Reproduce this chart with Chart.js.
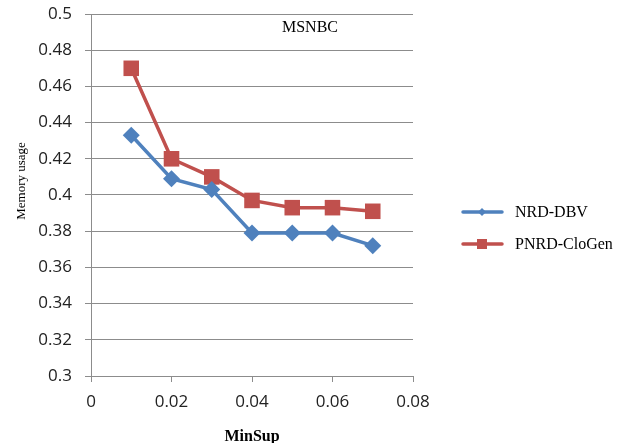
<!DOCTYPE html>
<html lang="en">
<head>
  <meta charset="UTF-8">
  <title>MSNBC Memory usage</title>
  <style>
    html, body { margin: 0; padding: 0; background: #fff; }
    #wrap { width: 629px; height: 443px; }
  </style>
  <script src="https://cdn.jsdelivr.net/npm/chart.js"></script>
</head>
<body>
  <div id="wrap"><canvas id="memChart" width="629" height="443"></canvas></div>

  <script>
    // MinSup values and memory usage per algorithm
    var minSup = [0.01, 0.02, 0.03, 0.04, 0.05, 0.06, 0.07];
    var nrdDbv = [0.433, 0.409, 0.403, 0.379, 0.379, 0.379, 0.372];
    var pnrdCloGen = [0.470, 0.420, 0.410, 0.397, 0.393, 0.393, 0.391];

    var seriesNames = ['NRD-DBV', 'PNRD-CloGen'];
    var datasetTitle = 'MSNBC';

    var blue = '#4F81BD';
    var red = '#C0504D';
    var gridColor = '#8c8c8c';

    function toPoints(values) {
      return values.map(function (v, i) { return { x: minSup[i], y: v }; });
    }

    function fmt(v) {
      return String(Math.round(v * 100) / 100);
    }

    // dataset name inside the plot, rotated y title, legend at right
    var extras = {
      id: 'extras',
      afterDraw: function (chart) {
        var ctx = chart.ctx;
        ctx.save();
        ctx.fillStyle = '#000';
        ctx.font = '16px "Liberation Serif"';
        ctx.textAlign = 'center';
        ctx.textBaseline = 'middle';
        ctx.fillText(datasetTitle, 310, 28);

        ctx.save();
        ctx.translate(22, 181);
        ctx.rotate(-Math.PI / 2);
        ctx.font = '13px "Liberation Serif"';
        ctx.fillText('Memory usage', 0, 0);
        ctx.restore();

        // legend entries
        var rows = [212, 244];
        chart.data.datasets.forEach(function (ds, i) {
          var y = rows[i];
          ctx.strokeStyle = ds.borderColor;
          ctx.lineWidth = 3.5;
          ctx.lineCap = 'round';
          ctx.beginPath();
          ctx.moveTo(463, y);
          ctx.lineTo(502, y);
          ctx.stroke();
          ctx.fillStyle = ds.backgroundColor;
          if (ds.pointStyle === 'rect') {
            ctx.fillRect(477, y - 5, 10, 10);
          } else {
            ctx.beginPath();
            ctx.moveTo(482, y - 4);
            ctx.lineTo(486, y);
            ctx.lineTo(482, y + 4);
            ctx.lineTo(478, y);
            ctx.closePath();
            ctx.fill();
          }
          ctx.fillStyle = '#000';
          ctx.font = '16px "Liberation Serif"';
          ctx.textAlign = 'left';
          ctx.fillText(ds.label, 515, y + 1);
        });
        ctx.restore();
      }
    };

    var ctx = document.getElementById('memChart').getContext('2d');
    var chart = new Chart(ctx, {
      type: 'line',
      data: {
        datasets: [{
          label: seriesNames[0],
          data: toPoints(nrdDbv),
          borderColor: blue,
          backgroundColor: blue,
          borderWidth: 3.5,
          pointStyle: 'rectRot',
          pointRadius: 8.5,
          pointBorderWidth: 0,
          tension: 0
        }, {
          label: seriesNames[1],
          data: toPoints(pnrdCloGen),
          borderColor: red,
          backgroundColor: red,
          borderWidth: 3.5,
          pointStyle: 'rect',
          pointRadius: 11,
          pointBorderWidth: 0,
          tension: 0
        }]
      },
      options: {
        responsive: false,
        animation: false,
        events: [],
        layout: { padding: { left: 0, right: 216, top: 14, bottom: 0 } },
        plugins: {
          legend: { display: false },
          tooltip: { enabled: false }
        },
        scales: {
          x: {
            type: 'linear',
            min: 0,
            max: 0.08,
            afterFit: function (s) {
              s.height = 67;
              s.paddingLeft = 0;
              s.paddingRight = 0;
            },
            ticks: {
              stepSize: 0.02,
              padding: 10,
              color: '#222',
              font: { family: 'Open Sans', size: 17 },
              callback: fmt,
              maxRotation: 0
            },
            grid: {
              drawOnChartArea: false,
              tickLength: 6,
              color: gridColor
            },
            border: { color: gridColor, width: 1 },
            title: {
              display: true,
              text: 'MinSup',
              color: '#000',
              font: { family: 'Liberation Serif', size: 16, weight: 'bold' },
              padding: { top: 0, bottom: -3 }
            }
          },
          y: {
            min: 0.3,
            max: 0.5,
            afterFit: function (s) {
              s.width = 91;
              s.paddingTop = 0;
              s.paddingBottom = 0;
            },
            ticks: {
              stepSize: 0.02,
              padding: 13,
              color: '#222',
              font: { family: 'Open Sans', size: 17 },
              callback: fmt
            },
            grid: {
              color: gridColor,
              tickLength: 6
            },
            border: { color: gridColor, width: 1 }
          }
        }
      },
      plugins: [extras]
    });
  </script>
</body>
</html>
